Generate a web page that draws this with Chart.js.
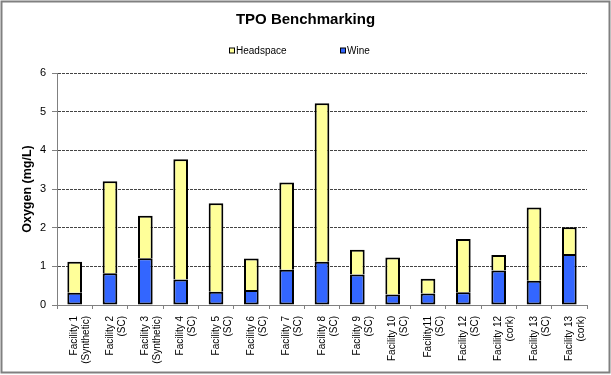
<!DOCTYPE html>
<html>
<head>
<meta charset="utf-8">
<script src="https://cdn.jsdelivr.net/npm/chart.js@4/dist/chart.umd.min.js"></script>
<style>
html,body{margin:0;padding:0;background:#fff;}
#wrap{width:611px;height:375px;position:relative;}
</style>
</head>
<body>
<div id="wrap"><canvas id="c" width="611" height="375"></canvas></div>
<script>
const categories = [
  ["Facility 1","(Synthetic)"],["Facility 2","(SC)"],["Facility 3","(Synthetic)"],
  ["Facility 4","(SC)"],["Facility 5","(SC)"],["Facility 6","(SC)"],["Facility 7","(SC)"],
  ["Facility 8","(SC)"],["Facility 9","(SC)"],["Facility 10","(SC)"],["Facility11","(SC)"],
  ["Facility 12","(SC)"],["Facility 12","(cork)"],["Facility 13","(SC)"],["Facility 13","(cork)"]
];
const wine      = [0.32,0.82,1.21,0.66,0.34,0.39,0.91,1.12,0.79,0.27,0.30,0.33,0.89,0.63,1.32];
const headspace = [0.80,2.38,1.10,3.11,2.29,0.81,2.26,4.10,0.64,0.96,0.38,1.38,0.40,1.89,0.69];
const yTicks = [0,1,2,3,4,5,6];
const chartTitle = "TPO Benchmarking";
const yTitle = "Oxygen (mg/L)";

const FONT = "Arial, 'Liberation Sans', sans-serif";

const frame = {
  id: 'frame',
  beforeDraw(chart) {
    const ctx = chart.ctx;
    ctx.save();
    ctx.fillStyle = '#fff';
    ctx.fillRect(0, 0, chart.width, chart.height);
    ctx.restore();
  },
  afterDraw(chart) {
    const ctx = chart.ctx;
    ctx.save();
    ctx.strokeStyle = '#808080';
    ctx.lineWidth = 2;
    ctx.strokeRect(1.5, 1.5, 608, 371);
    ctx.restore();
  }
};

const headerAndLegend = {
  id: 'headerAndLegend',
  afterDraw(chart) {
    const ctx = chart.ctx;
    ctx.save();
    ctx.font = "bold 15px " + FONT;
    ctx.fillStyle = '#000';
    ctx.textAlign = 'center';
    ctx.textBaseline = 'middle';
    ctx.fillText(chartTitle, 305.5, 20);

    const order = [1, 0];
    const xs = [229.5, 340.5];
    ctx.font = "10px " + FONT;
    ctx.textAlign = 'left';
    order.forEach((di, k) => {
      const ds = chart.data.datasets[di];
      const x = xs[k], y = 51;
      ctx.fillStyle = ds.backgroundColor;
      ctx.fillRect(x, y - 3, 5, 5);
      ctx.strokeStyle = '#000';
      ctx.lineWidth = 1;
      ctx.strokeRect(x, y - 3, 5, 5);
      ctx.fillStyle = '#000';
      ctx.fillText(ds.label, x + 6.5, y);
    });
    ctx.restore();
  }
};

new Chart(document.getElementById('c'), {
  type: 'bar',
  data: {
    labels: categories,
    datasets: [
      { label: 'Wine', data: wine, backgroundColor: '#3366FF', borderColor: '#000', borderWidth: 2, borderSkipped: false },
      { label: 'Headspace', data: headspace, backgroundColor: '#FFFF99', borderColor: '#000', borderWidth: 2, borderSkipped: 'bottom' }
    ]
  },
  options: {
    responsive: false,
    animation: false,
    devicePixelRatio: 1,
    layout: { padding: { left: 0, right: 24, top: 73, bottom: 0 } },
    datasets: { bar: { categoryPercentage: 1, barPercentage: 0.415 } },
    plugins: {
      legend: { display: false },
      tooltip: { enabled: false },
      title: { display: false }
    },
    scales: {
      x: {
        stacked: true,
        grid: { display: true, offset: true, drawOnChartArea: false, drawTicks: true, tickLength: 4, color: '#808080' },
        border: { display: true, color: '#808080', width: 1 },
        ticks: {
          autoSkip: false, minRotation: 90, maxRotation: 90, padding: 7,
          color: '#000', font: { family: FONT, size: 10 }
        },
        afterFit(scale) { scale.height = 70; }
      },
      y: {
        stacked: true,
        min: 0, max: 6,
        afterBuildTicks(scale) { scale.ticks = yTicks.map(v => ({ value: v })); },
        grid: { display: true, color: '#444', drawTicks: true, tickLength: 5, tickColor: '#808080' },
        border: { display: true, color: '#808080', width: 1, dash: [3, 1] },
        ticks: { color: '#000', padding: 6, font: { family: FONT, size: 11 } },
        title: {
          display: true, text: yTitle, color: '#000',
          font: { family: FONT, size: 12.5, weight: 'bold' },
          padding: { top: 20, bottom: 0 }
        },
        afterFit(scale) { scale.width = 57; }
      }
    }
  },
  plugins: [frame, headerAndLegend]
});
</script>
</body>
</html>
